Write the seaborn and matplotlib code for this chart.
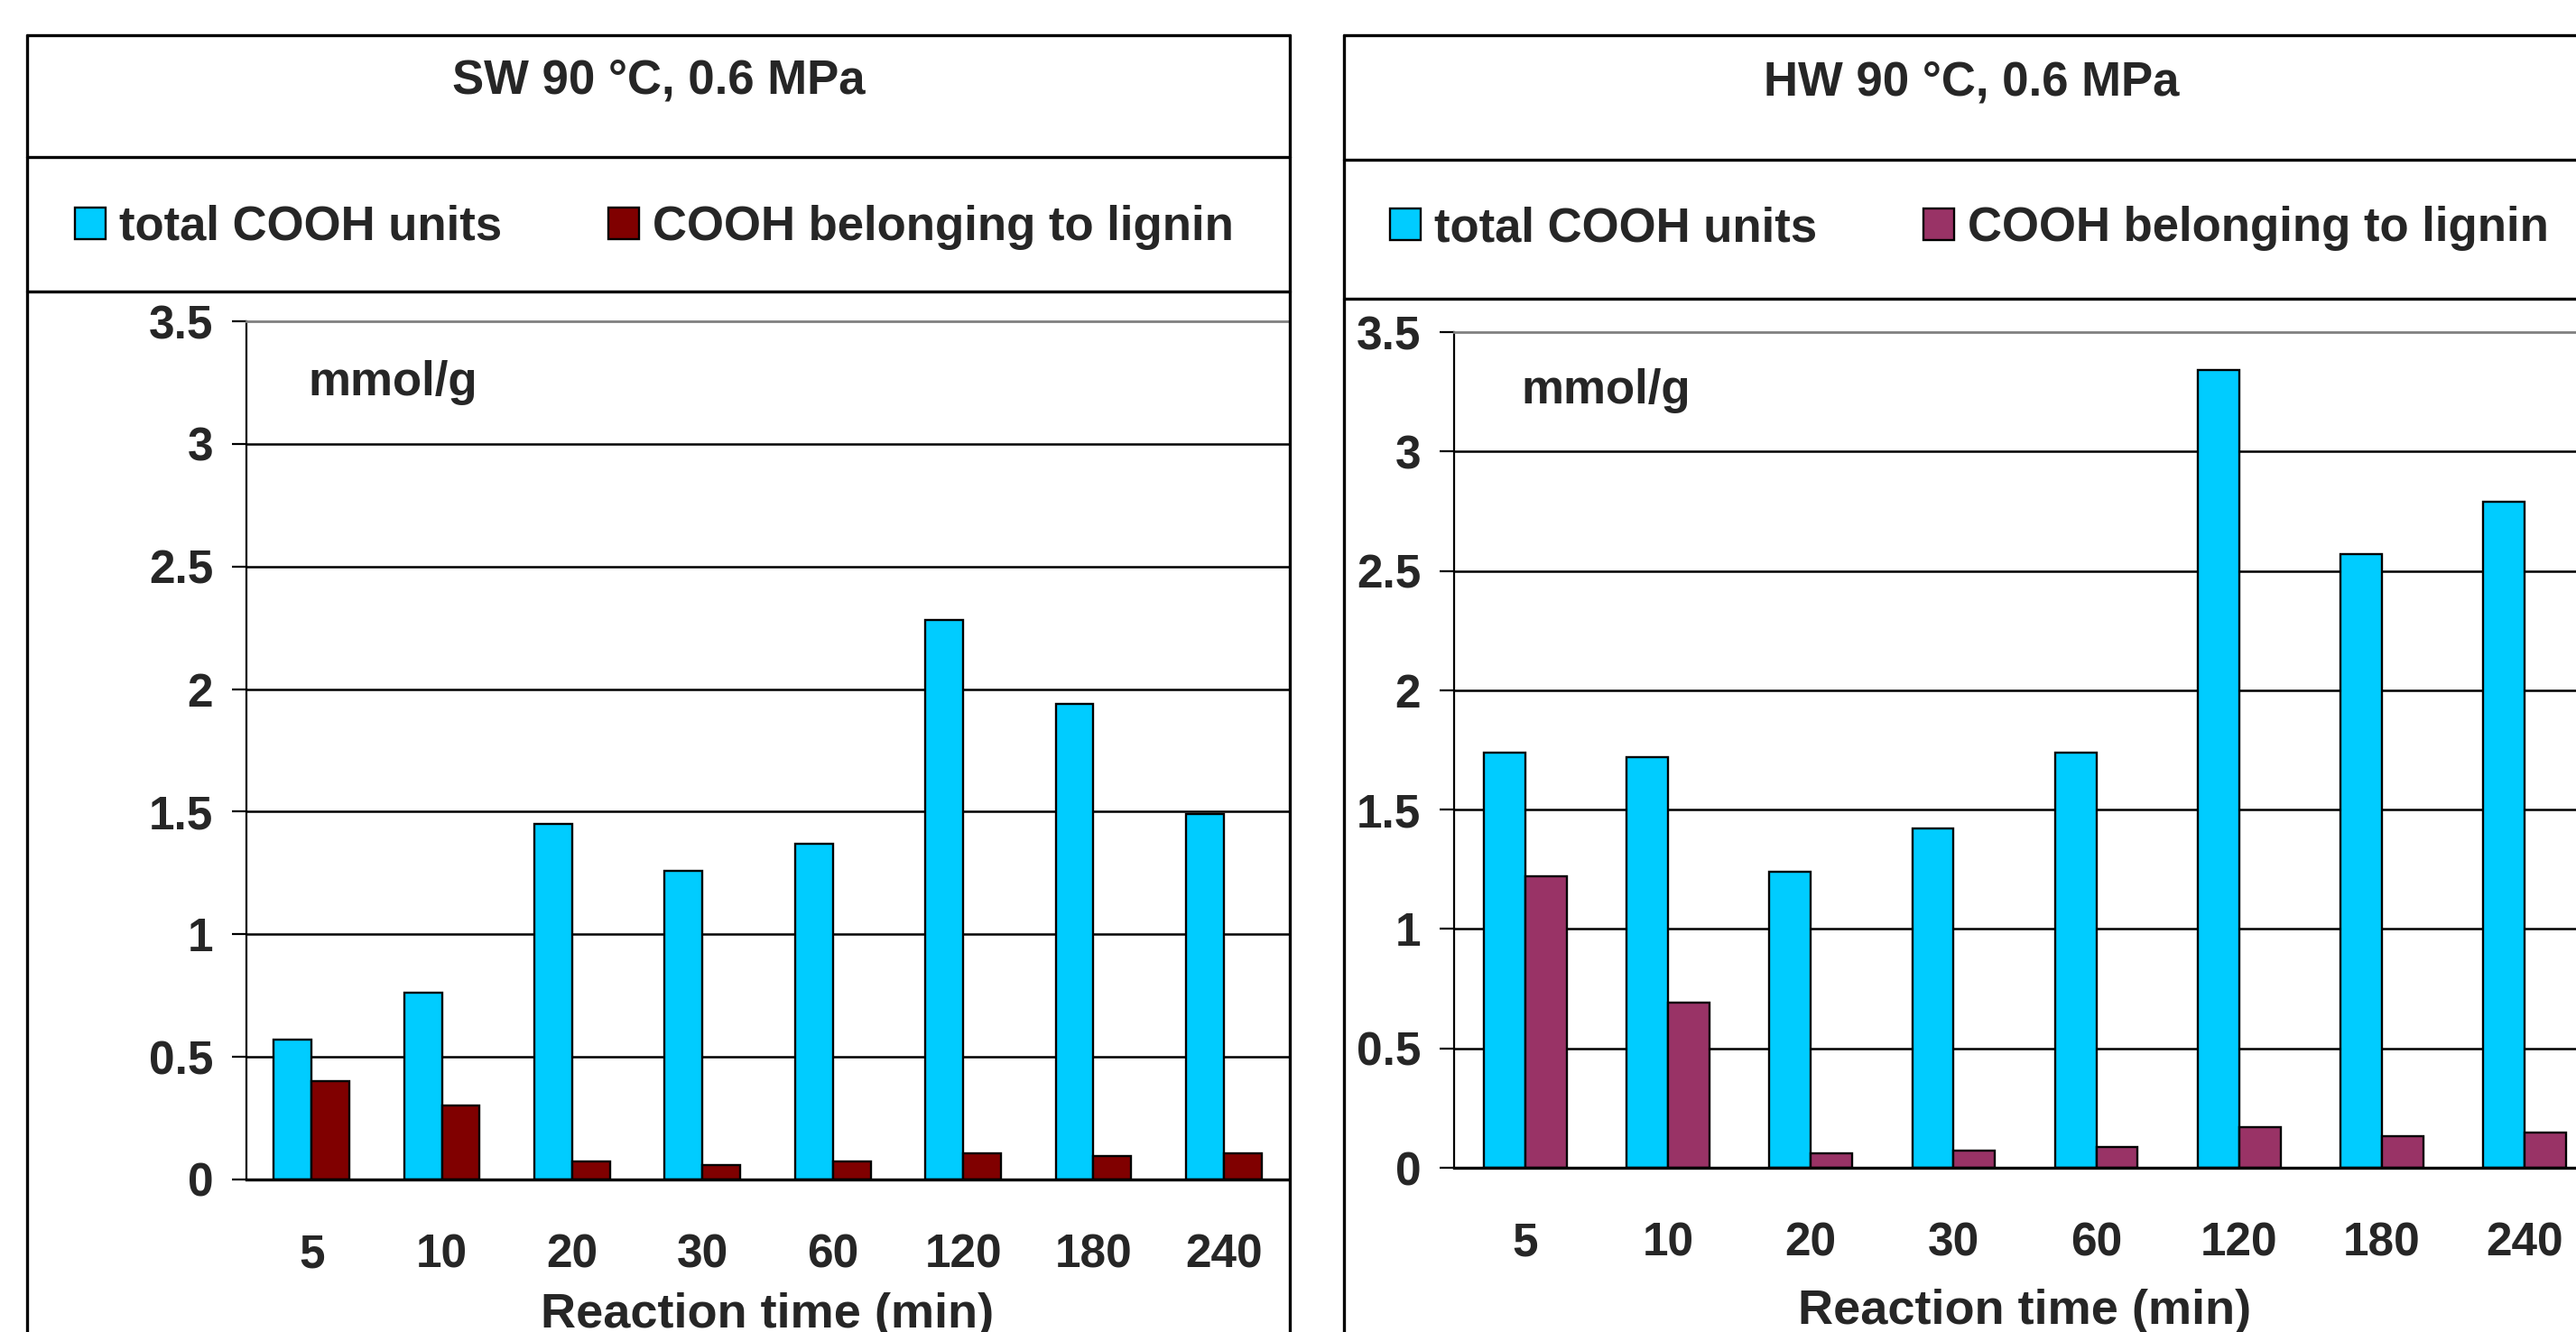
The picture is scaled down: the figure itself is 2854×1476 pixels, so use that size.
import numpy as np
import pandas as pd
import matplotlib
matplotlib.use('Agg')
import matplotlib.pyplot as plt
import seaborn as sns
from matplotlib.lines import Line2D

# data
times = ['5', '10', '20', '30', '60', '120', '180', '240']
series = ['total COOH units', 'COOH belonging to lignin']
sw_total = [0.57, 0.76, 1.45, 1.26, 1.37, 2.28, 1.94, 1.49]
sw_lignin = [0.40, 0.30, 0.073, 0.06, 0.073, 0.108, 0.096, 0.108]
hw_total = [1.74, 1.72, 1.24, 1.42, 1.74, 3.34, 2.57, 2.79]
hw_lignin = [1.22, 0.69, 0.061, 0.073, 0.087, 0.17, 0.132, 0.149]
yticks = [0, 0.5, 1, 1.5, 2, 2.5, 3, 3.5]
ytick_labels = ['0', '0.5', '1', '1.5', '2', '2.5', '3', '3.5']

sns.set_style('white')
plt.rcParams['font.family'] = ['Liberation Sans', 'DejaVu Sans']
plt.rcParams['font.weight'] = 'bold'

W, H = 2854, 1476
fig = plt.figure(figsize=(W / 100, H / 100), dpi=100)
fig.patch.set_facecolor('white')


def fx(px):
    return px / W


def fy(py):
    return 1 - py / H


def hline(x0, x1, y, **kw):
    fig.add_artist(Line2D([fx(x0), fx(x1)], [fy(y), fy(y)], transform=fig.transFigure,
                          color='black', lw=2.4, **kw))


def vline(x, y0, y1):
    fig.add_artist(Line2D([fx(x), fx(x)], [fy(y0), fy(y1)], transform=fig.transFigure,
                          color='black', lw=2.4))


panels = [
    dict(title='SW 90 \u00b0C, 0.6 MPa', total=sw_total, lignin=sw_lignin, color2='#800000',
         box=(30, 1429), top=39, sep1=174, sep2=323, title_y=103, leg_x=83, leg_y=252,
         ax=(273, 1428, 356, 1307), labelpad=12),
    dict(title='HW 90 \u00b0C, 0.6 MPa', total=hw_total, lignin=hw_lignin, color2='#993366',
         box=(1489, 2879), top=39, sep1=177, sep2=331, title_y=105, leg_x=1540, leg_y=253,
         ax=(1611, 2876, 368, 1294), labelpad=18.5),
]

for p in panels:
    bx0, bx1 = p['box']
    hline(bx0, bx1, p['top'])
    hline(bx0, bx1, p['sep1'])
    hline(bx0, bx1, p['sep2'])
    vline(bx0, p['top'], H + 10)
    vline(bx1, p['top'], H + 10)
    fig.text(fx((bx0 + bx1) / 2), fy(p['title_y']), p['title'], ha='center', va='baseline',
             fontsize=38, fontweight='bold')

    x0, x1, y0, y1 = p['ax']
    ax = fig.add_axes([fx(x0), fy(y1), fx(x1 - x0), (y1 - y0) / H])
    df = pd.DataFrame({
        'time': times * 2,
        'value': p['total'] + p['lignin'],
        'series': [series[0]] * len(times) + [series[1]] * len(times),
    })
    sns.barplot(data=df, x='time', y='value', hue='series', order=times, hue_order=series,
                palette={series[0]: '#00CCFF', series[1]: p['color2']}, saturation=1,
                width=0.58, edgecolor='black', linewidth=1.7, legend=False, ax=ax)

    ax.set_xlim(-0.5, len(times) - 0.5)
    ax.set_ylim(0, 3.5)
    ax.set_yticks(yticks)
    ax.set_yticklabels(ytick_labels)
    ax.set_xticks(range(len(times)))
    ax.set_xticklabels(times)
    ax.set_xticks(np.arange(-0.5, len(times), 1), minor=True)
    ax.tick_params(axis='x', which='major', length=0, pad=43, labelsize=37)
    ax.tick_params(axis='x', which='minor', length=12, width=1.6, color='black', direction='out')
    ax.tick_params(axis='y', length=11.5, width=1.6, color='black', pad=15, labelsize=37,
                   direction='out', left=True)
    for lab in ax.get_xticklabels() + ax.get_yticklabels():
        lab.set_fontweight('bold')

    ax.yaxis.grid(True, color='black', lw=1.8)
    ax.set_axisbelow(True)
    ax.get_ygridlines()[-1].set_visible(False)

    ax.spines['left'].set_color('black')
    ax.spines['left'].set_linewidth(1.6)
    ax.spines['bottom'].set_color('black')
    ax.spines['bottom'].set_linewidth(2.4)
    ax.spines['top'].set_color('#808080')
    ax.spines['top'].set_linewidth(2)
    ax.spines['right'].set_visible(False)

    ax.set_ylabel('')
    ax.set_xlabel('Reaction time (min)', fontsize=39, fontweight='bold', labelpad=p['labelpad'])
    ax.text(0.059, 3.2, 'mmol/g', transform=ax.get_yaxis_transform(), fontsize=38,
            fontweight='bold', va='baseline')

    handles = [c.patches[0] for c in ax.containers]
    ax.legend(handles, series, loc='center left', bbox_to_anchor=(fx(p['leg_x']), fy(p['leg_y'])),
              bbox_transform=fig.transFigure, ncol=2, frameon=False,
              handlelength=0.64, handleheight=0.63, handletextpad=0.28, columnspacing=2.25,
              borderpad=0, borderaxespad=0, prop={'weight': 'bold', 'size': 38})

fig.savefig('out.png', dpi=100)
